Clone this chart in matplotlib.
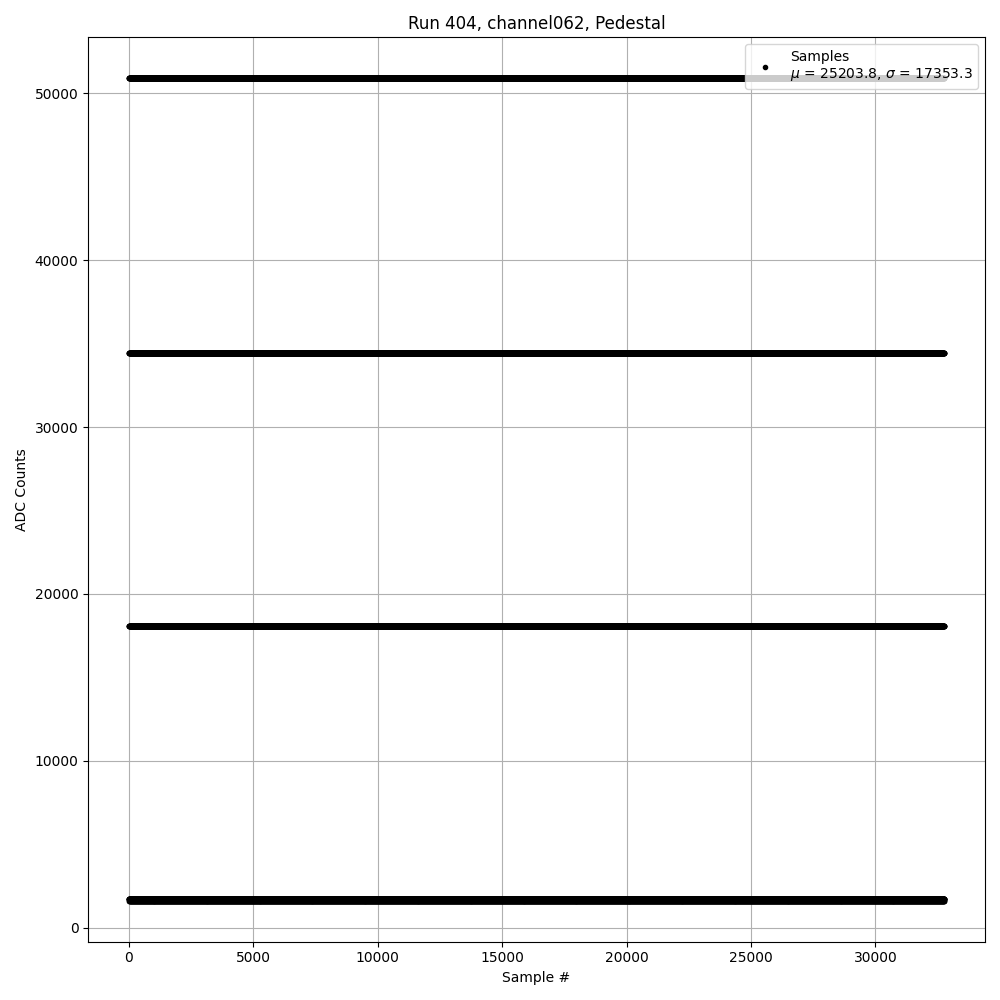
import numpy as np
import matplotlib.pyplot as plt

# ADC levels seen in the pedestal run (counts)
n_samples = 32768
adc_cycle = [1710, 18060, 34460, 50880, 1710, 18060, 34460, 50880, 1630, 1710]
mu = 25203.8
sigma = 17353.3

sample = np.arange(n_samples)
adc = np.resize(np.array(adc_cycle), n_samples)

plt.figure(figsize=(10, 10))
plt.plot(sample, adc, '.', color='k',
         label='Samples\n$\\mu$ = %.1f, $\\sigma$ = %.1f' % (mu, sigma))
plt.title('Run 404, channel062, Pedestal')
plt.xlabel('Sample #')
plt.ylabel('ADC Counts')
plt.grid()
plt.legend(loc='upper right')
plt.tight_layout()
plt.savefig('out.png', dpi=100)
